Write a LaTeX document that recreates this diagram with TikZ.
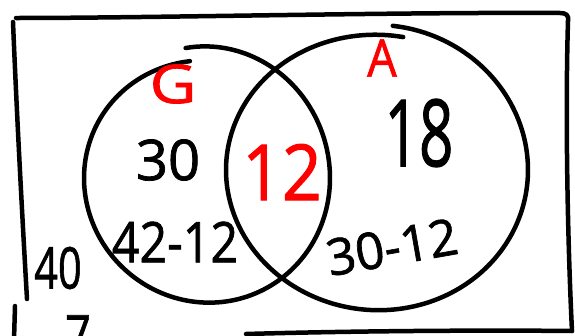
\documentclass[tikz,border=0pt]{standalone}
\usepackage{fontspec}
\setmainfont{Open Sans}[FakeBold=1.3]
\usetikzlibrary{calc}

\begin{document}
\begin{tikzpicture}[x=0.025cm, y=-0.025cm,
  pen/.style={line width=3.2pt, line cap=round, line join=round},
  count/.style={inner sep=0pt, text=black},
  setname/.style={inner sep=0pt, text=red}]

% Page frame in pixel units (y grows downwards)
\useasboundingbox (0,0) rectangle (575,336);
\clip (0,0) rectangle (575,336);

% Universe box, drawn as loose hand strokes
\draw[pen] (16,18) .. controls (150,18) and (400,12) .. (560,13) .. controls (566,13) and (569,15) .. (568,21);
\draw[pen] (568,21) .. controls (565,120) and (568,250) .. (572,331);
\draw[pen] (246,334) .. controls (350,331) and (480,330) .. (572,331);
\draw[pen] (13,22) .. controls (17,120) and (23,230) .. (27,299);
\draw[pen] (15,306) -- (14,340);

% Circle G, one stroke that ends just inside its start
\draw[pen, smooth] plot[domain=-100:262, samples=90]
  ({207+123*cos(\x)}, {178+(132-14*(\x+100)/362)*sin(\x)});

% Circle A, same idea
\draw[pen, smooth] plot[domain=-84:280, samples=90]
  ({377+151*cos(\x)}, {170+(145-10*(\x+84)/364)*sin(\x)});

% Set names
\node[setname, font=\fontsize{38}{38}\selectfont, xscale=1.2] (gname) at (173,84) {G};
\node[setname, font=\fontsize{37}{37}\selectfont, xscale=0.9] (aname) at (382,58) {A};

% Counts in the regions
\node[count, font=\fontsize{40}{40}\selectfont] (gonly) at (168,160) {30};
\node[count, font=\fontsize{40}{40}\selectfont, xscale=0.86] (gcalc) at (175,242) {42-12};
\node[count, font=\fontsize{41}{41}\selectfont, xscale=0.72] (outside) at (58,268) {40};
\node[setname, font=\fontsize{55}{55}\selectfont, xscale=0.9] (both) at (282,172) {12};
\node[count, font=\fontsize{66}{66}\selectfont, xscale=0.65] (aonly) at (419,133) {18};
\node[count, font=\fontsize{36}{36}\selectfont, rotate=10] (acalc) at (392,247) {30-12};

% Cut-off digit below the box
\node[count, font=\fontsize{40}{40}\selectfont, anchor=north, xscale=0.8] (cut) at (78,315) {7};

\end{tikzpicture}
\end{document}
